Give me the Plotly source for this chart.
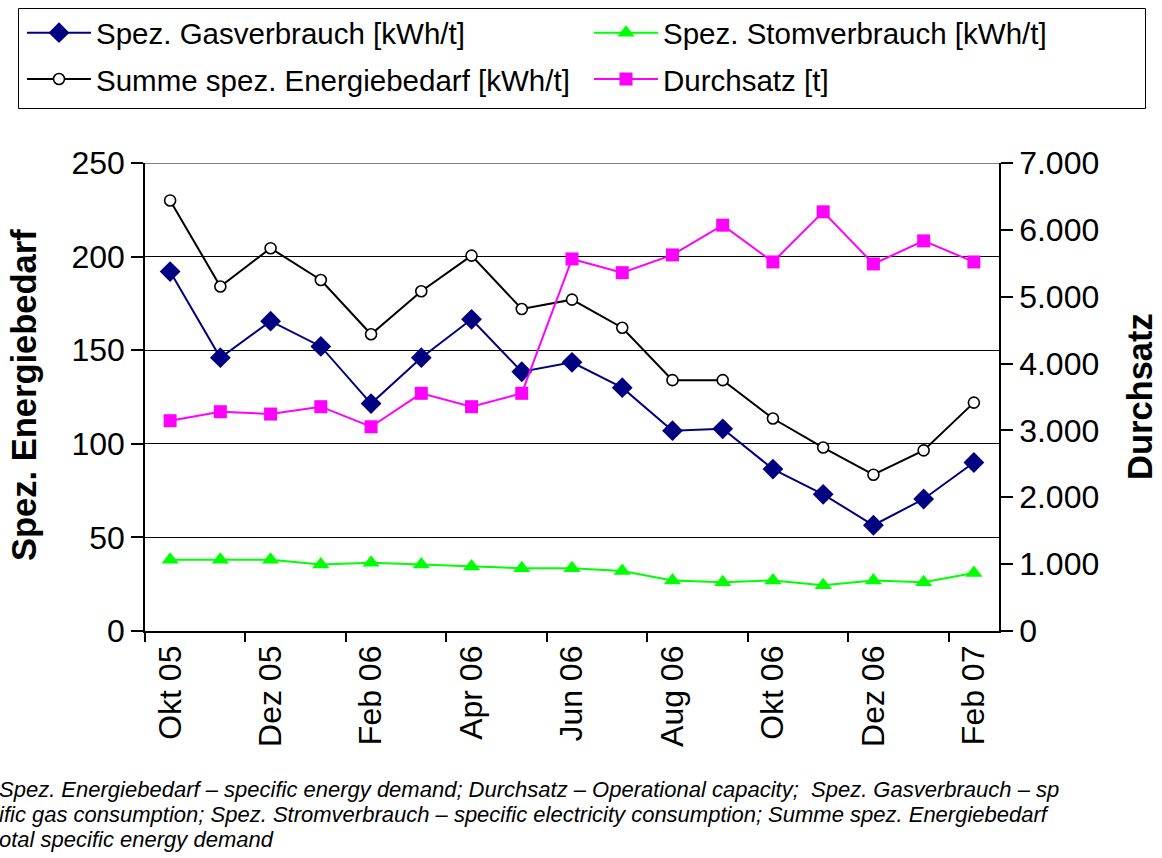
import plotly.graph_objects as go

months = ["Okt 05", "Nov 05", "Dez 05", "Jan 06", "Feb 06", "Mär 06", "Apr 06", "Mai 06", "Jun 06",
          "Jul 06", "Aug 06", "Sep 06", "Okt 06", "Nov 06", "Dez 06", "Jan 07", "Feb 07"]
gas = [192, 146, 165.5, 152, 121.5, 146, 166.5, 138.5, 143.5, 130, 107, 108, 86.5, 73, 56.5, 70.5, 90]
strom = [38, 38, 38, 35.5, 36.5, 35.5, 34.5, 33.5, 33.5, 32, 27, 26, 27, 24.5, 27, 26, 31]
summe = [230, 184, 204.5, 187.5, 158.5, 181.5, 200.5, 172, 177, 162, 134, 134, 113.5, 98, 83.5, 96.5, 122]
durchsatz = [3145, 3280, 3245, 3355, 3055, 3555, 3355, 3555, 5565, 5360, 5625, 6070, 5520, 6270, 5490, 5835, 5520]

names = ["Spez. Gasverbrauch [kWh/t]", "Spez. Stomverbrauch [kWh/t]",
         "Summe spez. Energiebedarf [kWh/t]", "Durchsatz [t]"]
caption_lines = [
    "Spez. Energiebedarf – specific energy demand; Durchsatz – Operational capacity;  Spez. Gasverbrauch – sp",
    "ific gas consumption; Spez. Stromverbrauch – specific electricity consumption; Summe spez. Energiebedarf",
    "otal specific energy demand",
]

W, H = 1162, 858
L, R, T, B = 145, 163, 163, 227
pw, ph = W - L - R, H - T - B
def px(x): return (x - L) / pw
def py(y): return (H - B - y) / ph

FONT = "Liberation Sans, Arial, sans-serif"

fig = go.Figure()
fig.add_trace(go.Scatter(x=months, y=gas, name=names[0], mode="lines+markers",
                         legend="legend", legendgroup="a",
                         line=dict(color="#000080", width=2),
                         marker=dict(symbol="diamond", size=16, color="#000080")))
fig.add_trace(go.Scatter(x=months, y=strom, name=names[1], mode="lines+markers",
                         legend="legend2", legendgroup="b",
                         line=dict(color="#00FF00", width=2),
                         marker=dict(symbol="triangle-up", size=15, color="#00FF00")))
fig.add_trace(go.Scatter(x=months, y=summe, name=names[2], mode="lines+markers",
                         legend="legend", legendgroup="c",
                         line=dict(color="black", width=2),
                         marker=dict(symbol="circle", size=11, color="white",
                                     line=dict(color="black", width=1.6))))
fig.add_trace(go.Scatter(x=months, y=durchsatz, name=names[3], mode="lines+markers", yaxis="y2",
                         legend="legend2", legendgroup="d",
                         line=dict(color="#FF00FF", width=2),
                         marker=dict(symbol="square", size=13, color="#FF00FF")))

leg_common = dict(orientation="v", yanchor="top", xanchor="left", borderwidth=0,
                  bgcolor="rgba(0,0,0,0)", font=dict(size=29.5, family=FONT),
                  itemwidth=64, tracegroupgap=5, traceorder="grouped")

fig.update_layout(
    width=W, height=H,
    margin=dict(l=L, r=R, t=T, b=B, pad=0, autoexpand=False),
    paper_bgcolor="white", plot_bgcolor="white",
    separators=",.",
    font=dict(family=FONT, color="black"),
    showlegend=True,
    legend=dict(x=px(22), y=py(7), **leg_common),
    legend2=dict(x=px(589), y=py(7), **leg_common),
    xaxis=dict(type="category", range=[-0.5, 16.5], tickvals=months[::2], ticks="",
               tickangle=-90, tickfont=dict(size=32), showline=True, linecolor="black",
               linewidth=1.5, showgrid=False, zeroline=False),
    xaxis2=dict(overlaying="x", anchor="y", side="bottom", range=[-0.5, 16.5],
                tickmode="linear", tick0=-0.5, dtick=2, ticks="outside", ticklen=10,
                tickcolor="black", tickwidth=1.5, showticklabels=False,
                showgrid=False, zeroline=False, showline=False),
    yaxis=dict(range=[0, 250], dtick=50, ticks="outside", ticklen=12, tickcolor="black",
               tickwidth=1.5, tickfont=dict(size=32), showline=True, linecolor="black",
               linewidth=1.5, showgrid=True, gridcolor="black", gridwidth=1, zeroline=False),
    yaxis2=dict(overlaying="y", side="right", range=[0, 7000], dtick=1000, tickformat=",d",
                ticks="outside", ticklen=12, tickcolor="black", tickwidth=1.5,
                tickfont=dict(size=32), showline=True, linecolor="black", linewidth=1.5,
                showgrid=False, zeroline=False),
)
# invisible helper trace so that the boundary tick axis is drawn
fig.add_trace(go.Scatter(x=[-0.5, 16.5], y=[0, 0], xaxis="x2", yaxis="y", mode="markers",
                         marker=dict(opacity=0), showlegend=False, hoverinfo="skip"))

fig.add_shape(type="line", xref="paper", yref="y", x0=0, x1=1, y0=250, y1=250,
              line=dict(color="#808080", width=2))
# legend frame
fig.add_shape(type="rect", xref="paper", yref="paper", x0=px(18.5), x1=px(1145.5),
              y0=py(8.5), y1=py(108.5), line=dict(color="black", width=1), layer="below")

fig.add_annotation(text="<b>Spez. Energiebedarf</b>", textangle=-90, xref="paper", yref="paper",
                   x=px(24), y=py(395), xanchor="center", yanchor="middle", showarrow=False,
                   font=dict(size=34.5, family=FONT))
fig.add_annotation(text="<b>Durchsatz</b>", textangle=-90, xref="paper", yref="paper",
                   x=px(1140), y=py(397), xanchor="center", yanchor="middle", showarrow=False,
                   font=dict(size=34.5, family=FONT))
for line, yc in zip(caption_lines, [789, 814, 839]):
    fig.add_annotation(text="<i>" + line + "</i>", xref="paper", yref="paper",
                       x=px(-3), y=py(yc), xanchor="left", yanchor="middle", showarrow=False,
                       font=dict(size=22, family=FONT))

fig.write_html("out.html", config={"displayModeBar": False},
               post_script="document.body.style.margin='0';")
